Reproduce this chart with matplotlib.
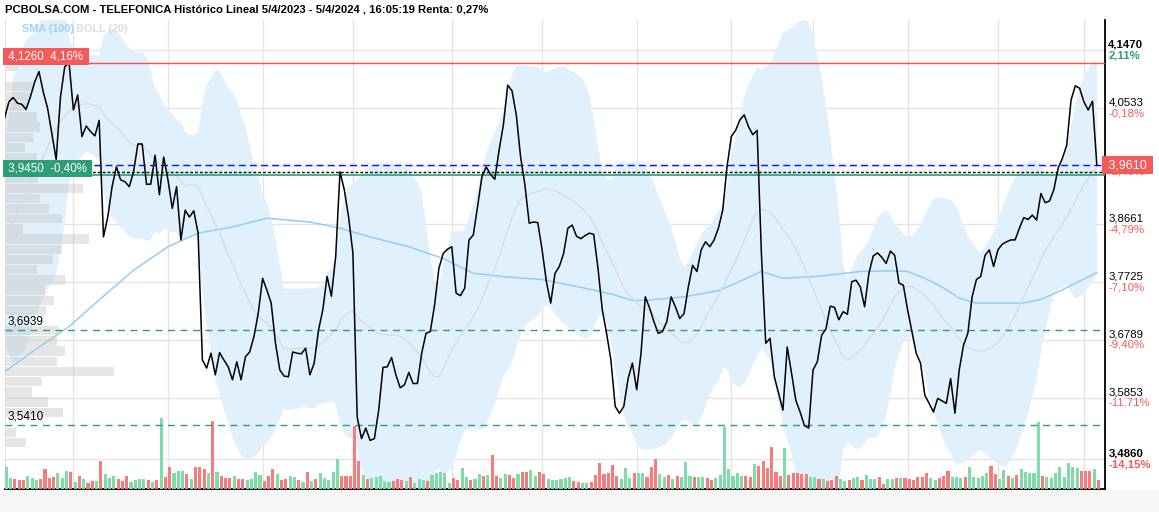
import numpy as np
import pandas as pd
import matplotlib
matplotlib.use("Agg")
import matplotlib.pyplot as plt
import matplotlib.transforms as mtrans
from matplotlib.patches import Rectangle

# ---------------- data ----------------
# daily closes, 5/4/2023 .. 5/4/2024 (trading-day index 0..254)
price = [
    4.037, 4.063, 4.070, 4.061, 4.059, 4.051, 4.071, 4.095, 4.112, 4.079,
    4.053, 4.012, 3.970, 4.071, 4.120, 4.126, 4.050, 4.074, 4.007, 4.024,
    4.015, 4.008, 4.033, 3.845, 3.877, 3.926, 3.958, 3.937, 3.934, 3.926,
    3.950, 3.995, 3.995, 3.930, 3.930, 3.977, 3.913, 3.974, 3.937, 3.891,
    3.926, 3.840, 3.888, 3.877, 3.887, 3.851, 3.646, 3.633, 3.657, 3.622,
    3.658, 3.646, 3.635, 3.614, 3.643, 3.614, 3.651, 3.659, 3.684, 3.722,
    3.778, 3.759, 3.738, 3.673, 3.630, 3.620, 3.619, 3.659, 3.657, 3.656,
    3.665, 3.622, 3.641, 3.694, 3.727, 3.781, 3.749, 3.813, 3.950, 3.921,
    3.877, 3.819, 3.554, 3.519, 3.536, 3.516, 3.519, 3.565, 3.634, 3.635,
    3.650, 3.622, 3.601, 3.606, 3.626, 3.608, 3.608, 3.657, 3.689, 3.692,
    3.735, 3.794, 3.818, 3.825, 3.829, 3.754, 3.750, 3.762, 3.840, 3.848,
    3.894, 3.942, 3.958, 3.946, 3.938, 3.985, 4.026, 4.090, 4.081, 4.042,
    3.974, 3.929, 3.867, 3.869, 3.868, 3.824, 3.7725, 3.738, 3.786, 3.797,
    3.818, 3.859, 3.864, 3.846, 3.842, 3.847, 3.851, 3.849, 3.794, 3.727,
    3.689, 3.646, 3.571, 3.560, 3.571, 3.616, 3.641, 3.598, 3.657, 3.748,
    3.730, 3.708, 3.689, 3.692, 3.708, 3.748, 3.732, 3.713, 3.721, 3.764,
    3.799, 3.789, 3.824, 3.837, 3.829, 3.840, 3.859, 3.888, 3.958, 4.007,
    4.017, 4.034, 4.042, 4.023, 4.010, 4.017, 3.818, 3.673, 3.681, 3.619,
    3.592, 3.565, 3.667, 3.625, 3.581, 3.562, 3.540, 3.536, 3.630, 3.643,
    3.686, 3.696, 3.733, 3.731, 3.711, 3.724, 3.720, 3.7725, 3.775, 3.764,
    3.732, 3.786, 3.814, 3.819, 3.812, 3.802, 3.822, 3.815, 3.770, 3.767,
    3.727, 3.692, 3.657, 3.641, 3.589, 3.576, 3.562, 3.584, 3.580, 3.576,
    3.616, 3.560, 3.630, 3.670, 3.689, 3.748, 3.776, 3.781, 3.815, 3.824,
    3.797, 3.824, 3.833, 3.837, 3.840, 3.840, 3.859, 3.876, 3.873, 3.880,
    3.872, 3.915, 3.900, 3.903, 3.921, 3.956, 3.972, 3.993, 4.066, 4.089,
    4.085, 4.063, 4.050, 4.064, 3.961,
]

# daily volume (millions of shares) and bar colour (g = up, r = down)
volume = [
    21.7, 10.7, 10.0, 9.0, 9.0, 13.3, 10.7, 9.0, 9.7, 19.7,
    11.3, 11.7, 15.7, 10.7, 18.0, 17.0, 6.7, 12.7, 10.0, 5.7,
    8.3, 8.3, 27.7, 14.7, 11.3, 13.0, 9.7, 8.3, 13.0, 6.7,
    9.0, 10.3, 10.3, 8.7, 7.0, 9.3, 70.7, 11.7, 21.7, 15.7,
    18.0, 18.0, 15.3, 9.7, 21.7, 21.7, 19.7, 15.7, 68.0, 17.0,
    12.7, 10.7, 10.7, 13.0, 10.3, 9.7, 9.0, 9.7, 16.7, 13.7,
    7.7, 12.7, 20.3, 15.0, 9.0, 10.0, 12.7, 12.0, 9.3, 7.3,
    17.0, 8.0, 10.3, 15.7, 11.0, 9.0, 17.0, 29.7, 13.3, 13.3,
    13.3, 63.0, 27.7, 13.7, 10.3, 10.7, 11.7, 13.0, 7.7, 6.7,
    8.0, 9.7, 9.0, 8.0, 11.7, 6.3, 9.7, 9.0, 8.3, 13.7,
    15.7, 17.3, 16.0, 6.3, 10.7, 9.0, 20.7, 11.7, 9.0, 9.7,
    14.7, 13.0, 13.7, 34.0, 13.3, 10.7, 15.3, 14.0, 11.0, 15.0,
    17.3, 17.3, 18.7, 13.3, 17.0, 15.3,
    9.7, 9.0, 9.0, 10.3, 11.3, 12.3, 8.3, 6.7, 5.7, 5.7,
    6.7, 14.0, 26.3, 15.0, 16.3, 24.0, 13.0, 10.0, 21.3, 10.7,
    16.3, 15.7, 16.3, 11.7, 22.3, 29.7, 14.7, 11.7, 14.0, 10.0,
    13.0, 11.7, 27.3, 13.3, 12.3, 12.3, 12.3, 10.7, 9.0, 10.7,
    14.0, 61.7, 19.7, 13.3, 16.3, 13.0, 13.3, 11.7, 24.7, 23.3,
    28.3, 20.7, 41.7, 16.7, 13.0, 40.7, 14.0, 15.7, 15.7, 15.0,
    15.0, 12.3, 12.3, 9.7, 10.0, 8.3, 9.0, 13.0, 9.7, 8.3,
    9.0, 11.0, 11.7, 9.0, 14.0, 9.7, 9.7, 11.7, 5.3, 10.0,
    10.0, 10.7, 11.3, 10.7, 9.7, 9.0, 12.3, 11.7, 16.3, 10.7,
    9.0, 10.7, 13.0, 18.0, 11.7, 11.7, 10.7, 11.7, 22.3, 12.3,
    10.7, 13.3, 16.3, 23.0, 15.0, 10.3, 18.7, 13.0, 10.7, 14.0,
    19.7, 17.3, 16.3, 16.3, 67.0, 13.3, 11.7, 11.3, 16.3, 21.7,
    12.0, 26.3, 22.3, 21.3, 18.3, 17.7, 17.7, 19.7, 9.0,
]
vol_dir = ("ggrrrgggrr" "rrgggrgrgr" "rgrgggrrrg" "gggrgrgrrg" "ggrgrrrgrg"
           "rrrgrrgggg" "rrrgrrggrg" "rgrgggggrr" "rrrgrggggg" "rrrgrgggrg"
           "ggggrrggrg" "grgrrggrrg" "rrggrr"
           "ggggggrrgg" "rrrrrrrggg" "rggrrrggrg" "rgggrggrrg" "ggggggrrgr"
           "rrrrrgrrrr" "rggrgrrrgg" "rggrgggrrg" "grgrrrrrrg" "grrrgggrgg"
           "gggrrggrgr" "gggggrgggg" "g" "gggrrrgr")

# Bollinger(20) for the first 19 sessions (window reaches before the chart)
boll_up_early = [3.980, 4.045, 4.098, 4.125, 4.145, 4.163, 4.170, 4.175, 4.190, 4.205,
                 4.220, 4.238, 4.255, 4.240, 4.210, 4.166, 4.146, 4.144, 4.141]
boll_mid_early = [3.830, 3.850, 3.870, 3.885, 3.900, 3.915, 3.930, 3.945, 3.960, 3.975,
                  3.990, 4.005, 4.020, 4.030, 4.040, 4.048, 4.053, 4.056, 4.058]
boll_lo_early = [3.680, 3.655, 3.642, 3.645, 3.655, 3.667, 3.690, 3.715, 3.730, 3.745,
                 3.760, 3.772, 3.785, 3.820, 3.870, 3.930, 3.960, 3.968, 3.975]

# SMA(100) read at these sessions
sma_idx = [0, 7, 15, 22, 30, 38, 45, 53, 61, 71, 78, 86, 94, 102, 109, 117, 125, 135, 142,
           146, 150, 158, 166, 170, 176, 181, 189, 199, 206, 210, 214, 218, 222, 226,
           230, 237, 241, 245, 249, 254]
sma_val = [3.627, 3.662, 3.700, 3.743, 3.791, 3.829, 3.851, 3.861, 3.875, 3.869, 3.859,
           3.843, 3.829, 3.810, 3.786, 3.780, 3.776, 3.762, 3.751, 3.742, 3.743, 3.748,
           3.758, 3.770, 3.789, 3.778, 3.781, 3.789, 3.790, 3.789, 3.778, 3.764, 3.746,
           3.738, 3.738, 3.738, 3.744, 3.756, 3.770, 3.787]

# volume-at-price profile: bins from 3.504 upwards, step 0.01645
prof_vol = [21, 11, 0, 58, 43, 27, 37, 109, 52, 60, 52, 54, 0, 41, 49, 40, 60, 32, 48,
            57, 84, 18, 57, 44, 35, 78, 33, 0, 32, 20, 28, 35, 32, 22, 25, 28, 0, 12]
prof_base, prof_step = 3.504, 0.01645

# axis
month_idx = [16, 38, 60, 81, 104, 125, 147, 169, 188, 210, 231, 251]
month_lbl = ["May", "Jun", "Jul", "Ago", "Sep", "Oct", "Nov", "Dic", "2024", "Feb", "Mar", "Abr"]
ytick_val = [4.1470, 4.0533, 3.9597, 3.8661, 3.7725, 3.6789, 3.5853, 3.4860]
ytick_pct = ["2,11%", "-0,18%", "-2,48%", "-4,79%", "-7,10%", "-9,40%", "-11,71%", "-14,15%"]

last_close, prev_close = 3.9610, 3.9503
max_lvl, min_lvl = 4.1260, 3.9450
sup1, sup2 = 3.6939, 3.5410

# ---------------- derived ----------------
idx = np.arange(len(price))
s = pd.Series(price)
mid = s.rolling(20).mean().to_numpy()
sd = s.rolling(20).std().to_numpy()
up, lo = mid + 2 * sd, mid - 2 * sd
n0 = len(boll_up_early)
up[:n0], mid[:n0], lo[:n0] = boll_up_early, boll_mid_early, boll_lo_early

# ---------------- figure ----------------
plt.rcParams["font.family"] = ["Liberation Sans", "DejaVu Sans"]
W, H = 1159, 512
fig = plt.figure(figsize=(W / 100, H / 100), dpi=100)
fig.patch.set_facecolor("white")
fig.patches.append(Rectangle((0, 0), 1, 22 / H, transform=fig.transFigure,
                             facecolor="#f6f6f6", edgecolor="none", zorder=0))
ax = fig.add_axes([5 / W, 23 / H, 1100 / W, 469 / H])
YMIN, YMAX = 3.4376, 4.1953
ax.set_xlim(0.1, 255.9)
ax.set_ylim(YMIN, YMAX)

GREEN, RED = "#2e9e78", "#f55a5a"
ax.fill_between(idx, lo, up, color="#e0f0fc", lw=0, zorder=1)

# volume-at-price
tr_prof = mtrans.blended_transform_factory(ax.transAxes, ax.transData)
pv = np.array(prof_vol, float)
ax.barh(prof_base + prof_step * (np.arange(len(pv)) + 0.5), pv / pv.max() * 0.099,
        height=prof_step * 0.92, left=0, color="#c8c8c8", alpha=0.45, lw=0,
        transform=tr_prof, zorder=2)

# volume bars
vscale = (YMAX - YMIN) / 469.0
vcol = ["#7fdcaa" if c == "g" else "#f77b7b" for c in vol_dir]
ax.bar(idx + 0.4, np.array(volume) * vscale, width=0.72, bottom=YMIN, color=vcol,
       lw=0, zorder=3)

ax.plot(sma_idx, sma_val, color="#93cdf5", lw=1.1, zorder=4)
ax.plot(idx, mid, color="#dcdcdc", lw=1.0, zorder=4)

ax.axhline(max_lvl, color="#f55050", lw=1.0, zorder=5)
ax.axhline(last_close, color="#1010ff", lw=1.0, ls=(0, (5, 3)), zorder=5)
ax.axhline(prev_close, color="black", lw=1.0, ls=(0, (2, 1.5)), zorder=5)
ax.axhline(min_lvl, color=GREEN, lw=1.2, zorder=5)
for lv in (sup1, sup2):
    ax.axhline(lv, color=GREEN, lw=1.0, ls=(0, (5, 4)), zorder=5)

ax.plot(idx, price, color="black", lw=1.1, zorder=6)

# grid / axes
ax.set_yticks(ytick_val)
ax.set_xticks(month_idx)
ax.set_xticklabels(month_lbl, fontsize=9)
ax.get_xticklabels()[month_lbl.index("2024")].set_fontweight("bold")
ax.grid(True, color="#e4e4e4", lw=1.0, zorder=0)
ax.set_axisbelow(True)
ax.tick_params(axis="y", left=False, labelleft=False)
ax.tick_params(axis="x", length=0, pad=6)
ax.spines["top"].set_visible(False)
ax.spines["left"].set_color("#dddddd")
ax.spines["right"].set_linewidth(1.3)
ax.spines["bottom"].set_linewidth(1.3)

# right axis labels; the last-price box is drawn over the one at 3,9597
tr_r = mtrans.blended_transform_factory(ax.transAxes, ax.transData)
for k, (v, p) in enumerate(zip(ytick_val, ytick_pct)):
    bold = "bold" if k in (0, len(ytick_val) - 1) else "normal"
    ax.text(1.003, v + 0.0005, f"{v:.4f}".replace(".", ","), transform=tr_r, fontsize=8.2,
            fontweight=bold, ha="left", va="bottom", clip_on=False, zorder=6)
    ax.text(1.003, v - 0.0005, p, transform=tr_r, fontsize=8.2, fontweight=bold,
            color=GREEN if p[0] != "-" else RED, ha="left", va="top", clip_on=False, zorder=6)
ax.text(1.0, last_close, " " + f"{last_close:.4f}".replace(".", ",") + " ", transform=tr_r,
        fontsize=9, color="white", ha="left", va="center", clip_on=False, zorder=8,
        bbox=dict(boxstyle="square,pad=0.25", fc=RED, ec="none"))

# left level labels
ax.text(0.0, max_lvl + 0.0008, " 4,1260  4,16% ", transform=tr_r, fontsize=8.3, color="white",
        ha="left", va="bottom", bbox=dict(boxstyle="square,pad=0.2", fc=RED, ec="none"), zorder=7)
ax.text(0.0, min_lvl + 0.0008, " 3,9450  -0,40% ", transform=tr_r, fontsize=8.3, color="white",
        ha="left", va="bottom", bbox=dict(boxstyle="square,pad=0.2", fc=GREEN, ec="none"), zorder=7)
for lv in (sup1, sup2):
    ax.text(0.002, lv + 0.004, f"{lv:.4f}".replace(".", ","), transform=tr_r, fontsize=8.5,
            ha="left", va="bottom", zorder=7)

# legend text and header
ax.text(0.0155, 0.98, "SMA (100)", transform=ax.transAxes, fontsize=7.8, fontweight="bold",
        color="#9fd3f7", va="center", zorder=7)
ax.text(0.065, 0.98, "BOLL (20)", transform=ax.transAxes, fontsize=7.8, fontweight="bold",
        color="#dddddd", va="center", zorder=7)
fig.text(5 / W, 1 - 10 / H,
         "PCBOLSA.COM - TELEFONICA Histórico Lineal 5/4/2023 - 5/4/2024 , 16:05:19 Renta: 0,27%",
         fontsize=8.1, fontweight="bold", va="center", ha="left")

fig.savefig("out.png", dpi=100)
